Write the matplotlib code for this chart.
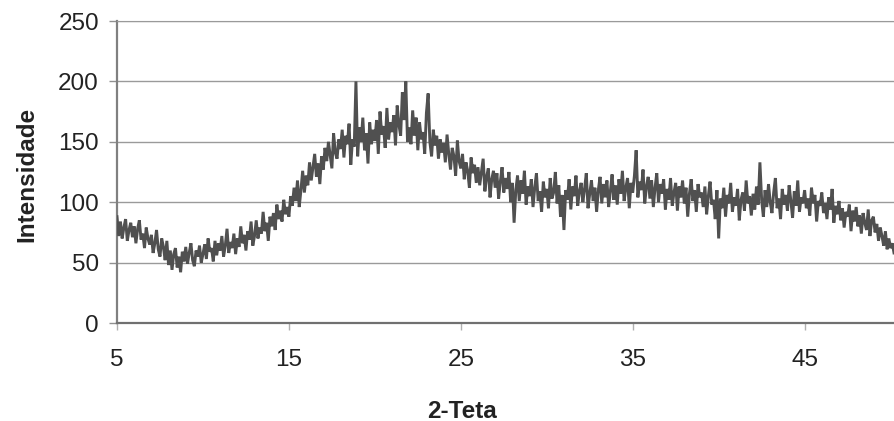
import numpy as np
import matplotlib
matplotlib.use("Agg")
import matplotlib.pyplot as plt

plt.rcParams["font.family"] = ["Liberation Sans", "DejaVu Sans"]

# 2-theta grid, 0.1 degree steps from 5.0 to 50.2
TWO_THETA_START = 5.0
TWO_THETA_STEP = 0.1

# intensity, one row per degree (x.0 .. x.9)
int_05 = [88, 72, 84, 70, 79, 86, 68, 77, 83, 71]
int_06 = [80, 66, 78, 85, 69, 74, 62, 79, 70, 65]
int_07 = [73, 58, 66, 77, 61, 55, 70, 63, 52, 68]
int_08 = [48, 60, 44, 57, 62, 46, 55, 42, 59, 51]
int_09 = [63, 49, 58, 66, 52, 47, 60, 55, 64, 50]
int_10 = [57, 65, 53, 70, 59, 62, 51, 68, 56, 66]
int_11 = [60, 72, 55, 64, 78, 58, 67, 62, 74, 57]
int_12 = [70, 63, 80, 66, 73, 60, 76, 69, 84, 64]
int_13 = [72, 85, 70, 79, 74, 92, 76, 83, 68, 88]
int_14 = [80, 91, 77, 98, 86, 93, 84, 102, 90, 96]
int_15 = [88, 105, 97, 112, 101, 118, 96, 110, 126, 108]
int_16 = [122, 114, 133, 118, 129, 140, 121, 132, 115, 138]
int_17 = [127, 145, 134, 150, 139, 128, 157, 141, 136, 152]
int_18 = [144, 160, 137, 155, 148, 165, 131, 152, 146, 200]
int_19 = [138, 162, 150, 170, 143, 157, 132, 166, 148, 160]
int_20 = [151, 168, 140, 175, 156, 163, 145, 178, 152, 166]
int_21 = [158, 172, 147, 180, 164, 155, 191, 168, 200, 150]
int_22 = [162, 148, 176, 155, 170, 143, 166, 152, 158, 140]
int_23 = [174, 190, 150, 138, 160, 147, 155, 136, 152, 141]
int_24 = [149, 133, 156, 140, 127, 145, 138, 122, 151, 134]
int_25 = [128, 140, 119, 133, 126, 112, 137, 124, 131, 116]
int_26 = [129, 114, 125, 136, 109, 121, 128, 104, 119, 126]
int_27 = [112, 124, 103, 117, 129, 108, 120, 111, 125, 100]
int_28 = [116, 83, 110, 122, 101, 118, 107, 126, 98, 113]
int_29 = [105, 119, 96, 112, 124, 101, 109, 92, 117, 104]
int_30 = [111, 95, 120, 103, 108, 125, 99, 114, 88, 106]
int_31 = [77, 110, 102, 119, 94, 113, 105, 122, 97, 109]
int_32 = [116, 100, 111, 124, 95, 107, 118, 101, 112, 92]
int_33 = [110, 121, 99, 115, 104, 118, 96, 109, 123, 102]
int_34 = [114, 98, 119, 107, 126, 101, 112, 120, 95, 116]
int_35 = [108, 122, 143, 104, 117, 110, 127, 99, 113, 121]
int_36 = [103, 118, 96, 112, 124, 100, 115, 107, 119, 94]
int_37 = [111, 102, 120, 97, 108, 116, 93, 113, 104, 118]
int_38 = [99, 112, 88, 107, 119, 101, 110, 92, 115, 104]
int_39 = [108, 96, 113, 90, 105, 117, 98, 102, 86, 110]
int_40 = [70, 103, 95, 112, 88, 106, 99, 116, 92, 104]
int_41 = [97, 111, 85, 102, 108, 93, 118, 99, 105, 89]
int_42 = [107, 94, 113, 98, 133, 102, 88, 110, 96, 115]
int_43 = [100, 91, 108, 120, 95, 103, 86, 111, 98, 106]
int_44 = [93, 114, 101, 87, 109, 97, 118, 92, 104, 99]
int_45 = [110, 95, 103, 89, 112, 99, 106, 84, 101, 97]
int_46 = [108, 91, 99, 86, 104, 94, 111, 83, 97, 90]
int_47 = [101, 85, 95, 79, 92, 88, 98, 76, 93, 84]
int_48 = [96, 80, 89, 74, 91, 83, 77, 94, 72, 85]
int_49 = [88, 75, 82, 68, 79, 72, 64, 76, 61, 70]
int_50 = [62, 66, 58]

rows = [int_05, int_06, int_07, int_08, int_09, int_10, int_11, int_12, int_13,
        int_14, int_15, int_16, int_17, int_18, int_19, int_20, int_21, int_22,
        int_23, int_24, int_25, int_26, int_27, int_28, int_29, int_30, int_31,
        int_32, int_33, int_34, int_35, int_36, int_37, int_38, int_39, int_40,
        int_41, int_42, int_43, int_44, int_45, int_46, int_47, int_48, int_49,
        int_50]
intensity = np.array([v for r in rows for v in r], dtype=float)
two_theta = TWO_THETA_START + TWO_THETA_STEP * np.arange(len(intensity))

x_ticks = [5, 15, 25, 35, 45]
y_ticks = [0, 50, 100, 150, 200, 250]

fig = plt.figure(figsize=(8.94, 4.21), dpi=100)
ax = fig.add_axes([117 / 894, 98 / 421, 777 / 894, 302 / 421])

ax.plot(two_theta, intensity, color="#505050", linewidth=2.1,
        solid_joinstyle="miter", zorder=3)

ax.set_xlim(5, 50.2)
ax.set_ylim(0, 250)
ax.set_xticks(x_ticks)
ax.set_yticks(y_ticks)
ax.grid(axis="y", color="#9a9a9a", linewidth=1.0, zorder=0)

ax.spines["right"].set_visible(False)
ax.spines["top"].set_color("#9a9a9a")
ax.spines["left"].set_color("#808080")
ax.spines["left"].set_linewidth(1.6)
ax.spines["bottom"].set_color("#707070")
ax.spines["bottom"].set_linewidth(1.6)

ax.tick_params(axis="y", length=6, width=1, color="#909090", pad=7,
               labelsize=17.5, labelcolor="#222222")
ax.tick_params(axis="x", length=5, width=1, color="#b0b0b0", pad=14,
               labelsize=17.5, labelcolor="#222222")

ax.set_xlabel("2-Teta", fontsize=17.5, fontweight="bold", color="#222222", va="center")
ax.xaxis.set_label_coords((462 - 117) / 777, (323 - 411) / 302)
ax.set_ylabel("Intensidade", fontsize=17.5, fontweight="bold", color="#222222", va="center")
ax.yaxis.set_label_coords((27 - 117) / 777, (323 - 174) / 302)

fig.savefig("out.png", dpi=100)
